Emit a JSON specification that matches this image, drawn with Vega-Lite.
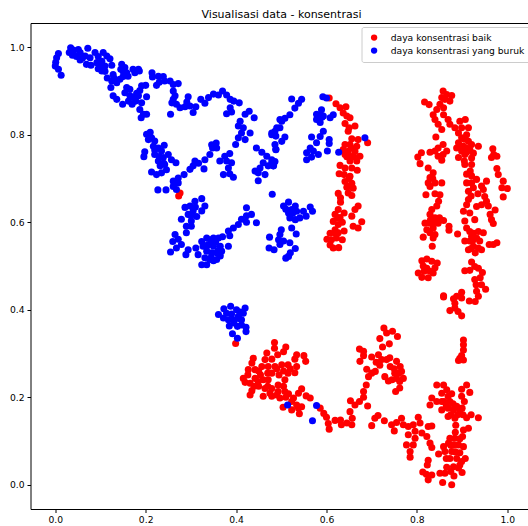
{"$schema":"https://vega.github.io/schema/vega-lite/v6.json","width":498,"height":486,"autosize":"none","padding":{"left":30.5,"top":23,"right":0,"bottom":17},"background":"white",
"title":{"text":"Visualisasi data - konsentrasi","font":"DejaVu Sans","fontSize":11,"fontWeight":"normal","color":"#000","anchor":"middle","offset":3,"dx":2},
"config":{"font":"DejaVu Sans","view":{"stroke":"#000","strokeWidth":1}},
"datasets":{"baik":[
{"x":0.606,"y":0.884},{"x":0.621,"y":0.871},{"x":0.63,"y":0.862},{"x":0.643,"y":0.864},{"x":0.637,"y":0.85},{"x":0.645,"y":0.843},{"x":0.652,"y":0.839},{"x":0.641,"y":0.826},{"x":0.65,"y":0.816},{"x":0.648,"y":0.808},{"x":0.663,"y":0.82},{"x":0.691,"y":0.782},{"x":0.656,"y":0.791},{"x":0.67,"y":0.789},{"x":0.641,"y":0.778},{"x":0.652,"y":0.778},{"x":0.667,"y":0.774},{"x":0.637,"y":0.766},{"x":0.648,"y":0.762},{"x":0.663,"y":0.762},{"x":0.652,"y":0.751},{"x":0.641,"y":0.755},{"x":0.674,"y":0.751},{"x":0.667,"y":0.74},{"x":0.652,"y":0.74},{"x":0.63,"y":0.73},{"x":0.641,"y":0.724},{"x":0.656,"y":0.724},{"x":0.668,"y":0.719},{"x":0.628,"y":0.711},{"x":0.639,"y":0.709},{"x":0.652,"y":0.705},{"x":0.641,"y":0.693},{"x":0.656,"y":0.689},{"x":0.648,"y":0.682},{"x":0.659,"y":0.678},{"x":0.648,"y":0.667},{"x":0.656,"y":0.661},{"x":0.626,"y":0.666},{"x":0.631,"y":0.656},{"x":0.631,"y":0.646},{"x":0.67,"y":0.637},{"x":0.663,"y":0.629},{"x":0.656,"y":0.614},{"x":0.678,"y":0.601},{"x":0.67,"y":0.587},{"x":0.659,"y":0.591},{"x":0.626,"y":0.629},{"x":0.639,"y":0.621},{"x":0.619,"y":0.618},{"x":0.63,"y":0.611},{"x":0.615,"y":0.602},{"x":0.626,"y":0.595},{"x":0.639,"y":0.58},{"x":0.619,"y":0.583},{"x":0.608,"y":0.575},{"x":0.626,"y":0.576},{"x":0.601,"y":0.561},{"x":0.611,"y":0.56},{"x":0.622,"y":0.564},{"x":0.608,"y":0.548},{"x":0.615,"y":0.541},{"x":0.627,"y":0.542},
{"x":0.858,"y":0.9},{"x":0.866,"y":0.892},{"x":0.877,"y":0.89},{"x":0.855,"y":0.885},{"x":0.862,"y":0.881},{"x":0.873,"y":0.877},{"x":0.817,"y":0.875},{"x":0.827,"y":0.869},{"x":0.851,"y":0.87},{"x":0.859,"y":0.862},{"x":0.844,"y":0.858},{"x":0.836,"y":0.846},{"x":0.859,"y":0.846},{"x":0.84,"y":0.835},{"x":0.847,"y":0.824},{"x":0.855,"y":0.812},{"x":0.842,"y":0.795},{"x":0.869,"y":0.835},{"x":0.873,"y":0.824},{"x":0.884,"y":0.816},{"x":0.895,"y":0.831},{"x":0.907,"y":0.835},{"x":0.899,"y":0.816},{"x":0.914,"y":0.816},{"x":0.892,"y":0.804},{"x":0.91,"y":0.8},{"x":0.899,"y":0.793},{"x":0.914,"y":0.785},{"x":0.892,"y":0.782},{"x":0.903,"y":0.774},{"x":0.921,"y":0.778},{"x":0.936,"y":0.774},{"x":0.888,"y":0.77},{"x":0.899,"y":0.763},{"x":0.917,"y":0.766},{"x":0.925,"y":0.758},{"x":0.906,"y":0.755},{"x":0.892,"y":0.748},{"x":0.921,"y":0.747},{"x":0.858,"y":0.778},{"x":0.847,"y":0.77},{"x":0.84,"y":0.763},{"x":0.829,"y":0.76},{"x":0.866,"y":0.763},{"x":0.858,"y":0.755},{"x":0.847,"y":0.751},{"x":0.855,"y":0.742},{"x":0.81,"y":0.759},{"x":0.802,"y":0.749},{"x":0.807,"y":0.734},
{"x":0.968,"y":0.768},{"x":0.97,"y":0.755},{"x":0.977,"y":0.751},{"x":0.965,"y":0.748},{"x":0.977,"y":0.723},{"x":0.98,"y":0.709},{"x":0.991,"y":0.694},{"x":1.0,"y":0.677},{"x":0.988,"y":0.679},{"x":0.991,"y":0.658},
{"x":0.906,"y":0.732},{"x":0.921,"y":0.732},{"x":0.918,"y":0.717},{"x":0.921,"y":0.706},{"x":0.91,"y":0.69},{"x":0.921,"y":0.69},{"x":0.932,"y":0.698},{"x":0.954,"y":0.694},{"x":0.943,"y":0.683},{"x":0.925,"y":0.679},{"x":0.914,"y":0.671},{"x":0.947,"y":0.675},{"x":0.95,"y":0.659},{"x":0.954,"y":0.648},{"x":0.943,"y":0.64},{"x":0.932,"y":0.636},{"x":0.914,"y":0.652},{"x":0.91,"y":0.64},{"x":0.958,"y":0.637},{"x":0.973,"y":0.628},{"x":0.962,"y":0.618},{"x":0.965,"y":0.606},{"x":0.969,"y":0.597},{"x":0.903,"y":0.625},{"x":0.917,"y":0.621},{"x":0.928,"y":0.606},{"x":0.906,"y":0.603},{"x":0.91,"y":0.587},
{"x":0.825,"y":0.724},{"x":0.836,"y":0.713},{"x":0.829,"y":0.702},{"x":0.825,"y":0.69},{"x":0.84,"y":0.69},{"x":0.855,"y":0.69},{"x":0.829,"y":0.682},{"x":0.82,"y":0.663},{"x":0.84,"y":0.665},{"x":0.851,"y":0.663},{"x":0.848,"y":0.648},{"x":0.844,"y":0.637},{"x":0.833,"y":0.629},{"x":0.829,"y":0.618},{"x":0.84,"y":0.61},{"x":0.859,"y":0.604},{"x":0.818,"y":0.598},{"x":0.829,"y":0.598},{"x":0.847,"y":0.598},{"x":0.836,"y":0.587},{"x":0.822,"y":0.583},{"x":0.871,"y":0.591},{"x":0.871,"y":0.582},{"x":0.829,"y":0.576},{"x":0.84,"y":0.572},{"x":0.814,"y":0.566},{"x":0.836,"y":0.564},{"x":0.834,"y":0.545},
{"x":0.89,"y":0.573},{"x":0.917,"y":0.579},{"x":0.936,"y":0.579},{"x":0.947,"y":0.576},{"x":0.906,"y":0.557},{"x":0.921,"y":0.568},{"x":0.932,"y":0.564},{"x":0.917,"y":0.557},{"x":0.939,"y":0.557},{"x":0.925,"y":0.545},{"x":0.936,"y":0.541},{"x":0.914,"y":0.537},{"x":0.929,"y":0.53},{"x":0.943,"y":0.537},{"x":0.96,"y":0.549},{"x":0.977,"y":0.553},{"x":0.969,"y":0.549},
{"x":0.811,"y":0.512},{"x":0.822,"y":0.516},{"x":0.833,"y":0.511},{"x":0.845,"y":0.507},{"x":0.814,"y":0.5},{"x":0.84,"y":0.496},{"x":0.803,"y":0.484},{"x":0.816,"y":0.488},{"x":0.829,"y":0.488},{"x":0.811,"y":0.474},{"x":0.825,"y":0.473},{"x":0.836,"y":0.484},{"x":0.822,"y":0.495},
{"x":0.921,"y":0.509},{"x":0.928,"y":0.499},{"x":0.906,"y":0.489},{"x":0.917,"y":0.49},{"x":0.936,"y":0.495},{"x":0.945,"y":0.485},{"x":0.928,"y":0.469},{"x":0.94,"y":0.473},{"x":0.931,"y":0.457},{"x":0.943,"y":0.457},{"x":0.952,"y":0.447},{"x":0.932,"y":0.442},{"x":0.936,"y":0.431},{"x":0.929,"y":0.419},{"x":0.916,"y":0.42},{"x":0.899,"y":0.44},{"x":0.888,"y":0.431},{"x":0.899,"y":0.427},{"x":0.881,"y":0.425},{"x":0.884,"y":0.415},{"x":0.859,"y":0.432},{"x":0.859,"y":0.429},{"x":0.884,"y":0.404},{"x":0.873,"y":0.398},{"x":0.891,"y":0.396},{"x":0.899,"y":0.386},
{"x":0.276,"y":0.667},{"x":0.273,"y":0.66},{"x":0.399,"y":0.323},
{"x":0.485,"y":0.325},{"x":0.485,"y":0.312},{"x":0.51,"y":0.315},{"x":0.505,"y":0.304},{"x":0.492,"y":0.297},{"x":0.468,"y":0.301},{"x":0.534,"y":0.297},{"x":0.55,"y":0.295},{"x":0.554,"y":0.282},{"x":0.438,"y":0.289},{"x":0.435,"y":0.278},{"x":0.464,"y":0.286},{"x":0.479,"y":0.287},{"x":0.53,"y":0.287},{"x":0.515,"y":0.274},{"x":0.501,"y":0.274},{"x":0.486,"y":0.27},{"x":0.471,"y":0.27},{"x":0.457,"y":0.27},{"x":0.427,"y":0.263},{"x":0.442,"y":0.263},{"x":0.534,"y":0.27},{"x":0.53,"y":0.256},{"x":0.515,"y":0.255},{"x":0.479,"y":0.255},{"x":0.495,"y":0.251},{"x":0.426,"y":0.251},{"x":0.454,"y":0.251},{"x":0.416,"y":0.243},{"x":0.442,"y":0.243},{"x":0.42,"y":0.234},{"x":0.431,"y":0.232},{"x":0.449,"y":0.236},{"x":0.471,"y":0.24},{"x":0.508,"y":0.24},{"x":0.493,"y":0.228},{"x":0.479,"y":0.22},{"x":0.435,"y":0.215},{"x":0.464,"y":0.22},{"x":0.431,"y":0.205},{"x":0.46,"y":0.202},{"x":0.475,"y":0.209},{"x":0.493,"y":0.213},{"x":0.508,"y":0.213},{"x":0.516,"y":0.208},{"x":0.479,"y":0.202},{"x":0.497,"y":0.198},{"x":0.545,"y":0.219},{"x":0.538,"y":0.209},{"x":0.527,"y":0.198},{"x":0.555,"y":0.203},{"x":0.564,"y":0.198},{"x":0.504,"y":0.177},{"x":0.523,"y":0.19},{"x":0.534,"y":0.182},{"x":0.545,"y":0.178},{"x":0.523,"y":0.171},{"x":0.538,"y":0.175},{"x":0.54,"y":0.162},
{"x":0.586,"y":0.175},{"x":0.594,"y":0.163},{"x":0.6,"y":0.154},{"x":0.604,"y":0.14},{"x":0.606,"y":0.127},{"x":0.619,"y":0.147},{"x":0.631,"y":0.148},{"x":0.633,"y":0.137},{"x":0.645,"y":0.141},{"x":0.656,"y":0.137},{"x":0.657,"y":0.152},{"x":0.652,"y":0.167},{"x":0.653,"y":0.192},{"x":0.663,"y":0.182},{"x":0.673,"y":0.19},{"x":0.682,"y":0.2},{"x":0.682,"y":0.213},{"x":0.688,"y":0.228},{"x":0.693,"y":0.247},{"x":0.689,"y":0.264},{"x":0.7,"y":0.255},{"x":0.708,"y":0.259},{"x":0.691,"y":0.18},
{"x":0.673,"y":0.31},{"x":0.682,"y":0.305},{"x":0.674,"y":0.282},{"x":0.682,"y":0.295},{"x":0.7,"y":0.292},{"x":0.715,"y":0.297},{"x":0.724,"y":0.315},{"x":0.722,"y":0.286},{"x":0.718,"y":0.273},{"x":0.733,"y":0.286},{"x":0.741,"y":0.27},{"x":0.755,"y":0.282},{"x":0.727,"y":0.358},{"x":0.733,"y":0.347},{"x":0.746,"y":0.351},{"x":0.718,"y":0.334},{"x":0.757,"y":0.339},{"x":0.739,"y":0.322},{"x":0.763,"y":0.27},{"x":0.766,"y":0.259},{"x":0.751,"y":0.255},{"x":0.755,"y":0.243},{"x":0.77,"y":0.243},{"x":0.729,"y":0.247},{"x":0.737,"y":0.237},{"x":0.762,"y":0.236},{"x":0.762,"y":0.221},{"x":0.753,"y":0.213},
{"x":0.7,"y":0.135},{"x":0.707,"y":0.152},{"x":0.714,"y":0.158},{"x":0.728,"y":0.146},{"x":0.744,"y":0.137},{"x":0.755,"y":0.142},{"x":0.766,"y":0.152},{"x":0.75,"y":0.123},{"x":0.77,"y":0.137},{"x":0.781,"y":0.133},{"x":0.792,"y":0.137},{"x":0.803,"y":0.154},{"x":0.807,"y":0.141},{"x":0.781,"y":0.114},{"x":0.796,"y":0.122},{"x":0.811,"y":0.118},{"x":0.825,"y":0.133},{"x":0.833,"y":0.134},{"x":0.822,"y":0.11},{"x":0.796,"y":0.106},{"x":0.777,"y":0.091},{"x":0.792,"y":0.091},{"x":0.785,"y":0.076},{"x":0.785,"y":0.063},{"x":0.829,"y":0.095},{"x":0.833,"y":0.085},{"x":0.825,"y":0.056},{"x":0.823,"y":0.045},{"x":0.813,"y":0.029},{"x":0.821,"y":0.024},{"x":0.833,"y":0.022},{"x":0.825,"y":0.011},
{"x":0.844,"y":0.228},{"x":0.859,"y":0.228},{"x":0.866,"y":0.217},{"x":0.855,"y":0.209},{"x":0.869,"y":0.202},{"x":0.833,"y":0.198},{"x":0.829,"y":0.182},{"x":0.844,"y":0.19},{"x":0.855,"y":0.19},{"x":0.873,"y":0.19},{"x":0.877,"y":0.208},{"x":0.91,"y":0.228},{"x":0.899,"y":0.218},{"x":0.917,"y":0.211},{"x":0.899,"y":0.202},{"x":0.888,"y":0.179},{"x":0.869,"y":0.175},{"x":0.855,"y":0.171},{"x":0.881,"y":0.171},{"x":0.895,"y":0.171},{"x":0.869,"y":0.156},{"x":0.884,"y":0.152},{"x":0.902,"y":0.16},{"x":0.92,"y":0.16},{"x":0.936,"y":0.153},{"x":0.91,"y":0.153},{"x":0.886,"y":0.136},{"x":0.914,"y":0.129},{"x":0.903,"y":0.125},{"x":0.901,"y":0.11},{"x":0.873,"y":0.106},{"x":0.884,"y":0.106},{"x":0.87,"y":0.095},{"x":0.859,"y":0.087},{"x":0.848,"y":0.07},{"x":0.881,"y":0.091},{"x":0.892,"y":0.091},{"x":0.903,"y":0.087},{"x":0.862,"y":0.076},{"x":0.877,"y":0.076},{"x":0.895,"y":0.073},{"x":0.907,"y":0.06},{"x":0.873,"y":0.06},{"x":0.888,"y":0.06},{"x":0.899,"y":0.053},{"x":0.866,"y":0.04},{"x":0.881,"y":0.041},{"x":0.892,"y":0.038},{"x":0.9,"y":0.028},{"x":0.851,"y":0.026},{"x":0.862,"y":0.026},{"x":0.882,"y":0.02},{"x":0.857,"y":0.005},{"x":0.877,"y":0.0},
{"x":0.903,"y":0.331},{"x":0.903,"y":0.32},{"x":0.903,"y":0.308},{"x":0.899,"y":0.295},{"x":0.892,"y":0.284},{"x":0.903,"y":0.285},{"x":0.895,"y":0.289},
{"x":0.45,"y":0.26},{"x":0.46,"y":0.24},{"x":0.49,"y":0.265},{"x":0.505,"y":0.26},{"x":0.52,"y":0.265},{"x":0.47,"y":0.255},{"x":0.45,"y":0.225},{"x":0.47,"y":0.225},{"x":0.44,"y":0.225},{"x":0.505,"y":0.225},{"x":0.49,"y":0.205},{"x":0.51,"y":0.2},{"x":0.86,"y":0.19},{"x":0.865,"y":0.18},{"x":0.88,"y":0.185},{"x":0.875,"y":0.16},{"x":0.89,"y":0.16},{"x":0.885,"y":0.12},{"x":0.895,"y":0.105},{"x":0.875,"y":0.09},{"x":0.865,"y":0.06},{"x":0.885,"y":0.075},{"x":0.895,"y":0.045},{"x":0.875,"y":0.03},{"x":0.9,"y":0.175},{"x":0.905,"y":0.19},{"x":0.74,"y":0.29},{"x":0.75,"y":0.265},{"x":0.76,"y":0.255},{"x":0.745,"y":0.24},{"x":0.71,"y":0.28},{"x":0.91,"y":0.76},{"x":0.905,"y":0.79},{"x":0.895,"y":0.775},{"x":0.91,"y":0.77},{"x":0.905,"y":0.74},{"x":0.91,"y":0.71},{"x":0.92,"y":0.66},{"x":0.935,"y":0.665},{"x":0.835,"y":0.7},{"x":0.84,"y":0.6},{"x":0.83,"y":0.605},{"x":0.85,"y":0.61},{"x":0.655,"y":0.77},{"x":0.66,"y":0.75},{"x":0.645,"y":0.75},{"x":0.65,"y":0.7},{"x":0.645,"y":0.68},{"x":0.635,"y":0.6},{"x":0.625,"y":0.61},{"x":0.635,"y":0.56},{"x":0.62,"y":0.575},{"x":0.925,"y":0.56},{"x":0.925,"y":0.575},{"x":0.92,"y":0.54}
],"buruk":[
{"x":0.007,"y":0.986},{"x":0.003,"y":0.976},{"x":0.001,"y":0.966},{"x":0.0,"y":0.957},{"x":0.007,"y":0.95},{"x":0.013,"y":0.936},{"x":0.034,"y":0.999},{"x":0.04,"y":0.994},{"x":0.031,"y":0.988},{"x":0.038,"y":0.982},{"x":0.051,"y":0.995},{"x":0.055,"y":0.988},{"x":0.047,"y":0.979},{"x":0.055,"y":0.971},{"x":0.072,"y":0.998},{"x":0.066,"y":0.98},{"x":0.077,"y":0.976},{"x":0.069,"y":0.961},{"x":0.079,"y":0.959},{"x":0.088,"y":0.988},{"x":0.095,"y":0.979},{"x":0.106,"y":0.988},{"x":0.114,"y":0.98},{"x":0.121,"y":0.974},{"x":0.103,"y":0.968},{"x":0.092,"y":0.965},{"x":0.095,"y":0.951},{"x":0.11,"y":0.957},{"x":0.103,"y":0.946},{"x":0.125,"y":0.959},{"x":0.115,"y":0.93},{"x":0.128,"y":0.938},{"x":0.125,"y":0.923},{"x":0.123,"y":0.908},{"x":0.136,"y":0.919},{"x":0.143,"y":0.927},{"x":0.147,"y":0.961},{"x":0.145,"y":0.95},{"x":0.154,"y":0.954},{"x":0.158,"y":0.942},{"x":0.15,"y":0.933},{"x":0.161,"y":0.934},{"x":0.172,"y":0.95},{"x":0.184,"y":0.95},{"x":0.176,"y":0.942},{"x":0.186,"y":0.946},
{"x":0.158,"y":0.908},{"x":0.165,"y":0.904},{"x":0.154,"y":0.896},{"x":0.128,"y":0.889},{"x":0.136,"y":0.881},{"x":0.149,"y":0.87},{"x":0.162,"y":0.877},{"x":0.173,"y":0.885},{"x":0.184,"y":0.889},{"x":0.191,"y":0.912},{"x":0.2,"y":0.913},{"x":0.187,"y":0.901},{"x":0.202,"y":0.887},{"x":0.191,"y":0.873},{"x":0.178,"y":0.877},{"x":0.187,"y":0.858},{"x":0.195,"y":0.847},{"x":0.19,"y":0.839},{"x":0.202,"y":0.847},
{"x":0.214,"y":0.942},{"x":0.215,"y":0.932},{"x":0.228,"y":0.934},{"x":0.239,"y":0.933},{"x":0.224,"y":0.913},{"x":0.23,"y":0.92},{"x":0.242,"y":0.923},{"x":0.254,"y":0.923},{"x":0.261,"y":0.915},{"x":0.272,"y":0.917},{"x":0.261,"y":0.9},{"x":0.265,"y":0.889},{"x":0.258,"y":0.873},{"x":0.268,"y":0.87},{"x":0.261,"y":0.881},{"x":0.276,"y":0.862},{"x":0.287,"y":0.864},{"x":0.294,"y":0.887},{"x":0.291,"y":0.875},{"x":0.298,"y":0.866},{"x":0.311,"y":0.864},{"x":0.305,"y":0.851},{"x":0.255,"y":0.847},{"x":0.322,"y":0.881},{"x":0.331,"y":0.872},{"x":0.339,"y":0.885},{"x":0.35,"y":0.893},{"x":0.361,"y":0.891},{"x":0.37,"y":0.9},{"x":0.379,"y":0.891},{"x":0.387,"y":0.881},{"x":0.395,"y":0.877},{"x":0.407,"y":0.873},{"x":0.387,"y":0.862},{"x":0.39,"y":0.852},{"x":0.379,"y":0.848},
{"x":0.429,"y":0.854},{"x":0.42,"y":0.847},{"x":0.44,"y":0.839},{"x":0.409,"y":0.831},{"x":0.405,"y":0.82},{"x":0.416,"y":0.816},{"x":0.412,"y":0.804},{"x":0.431,"y":0.804},{"x":0.405,"y":0.793},{"x":0.42,"y":0.789},{"x":0.399,"y":0.778},
{"x":0.202,"y":0.801},{"x":0.21,"y":0.806},{"x":0.213,"y":0.793},{"x":0.206,"y":0.789},{"x":0.22,"y":0.786},{"x":0.217,"y":0.774},{"x":0.228,"y":0.77},{"x":0.241,"y":0.776},{"x":0.235,"y":0.763},{"x":0.22,"y":0.755},{"x":0.198,"y":0.761},{"x":0.196,"y":0.75},{"x":0.25,"y":0.755},{"x":0.239,"y":0.748},{"x":0.228,"y":0.74},{"x":0.257,"y":0.743},{"x":0.267,"y":0.736},{"x":0.242,"y":0.732},{"x":0.232,"y":0.729},{"x":0.213,"y":0.715},{"x":0.224,"y":0.709},{"x":0.235,"y":0.713},{"x":0.246,"y":0.72},
{"x":0.285,"y":0.709},{"x":0.272,"y":0.701},{"x":0.261,"y":0.694},{"x":0.272,"y":0.69},{"x":0.261,"y":0.682},{"x":0.268,"y":0.675},{"x":0.227,"y":0.674},{"x":0.245,"y":0.674},
{"x":0.298,"y":0.721},{"x":0.309,"y":0.74},{"x":0.317,"y":0.735},{"x":0.305,"y":0.729},{"x":0.329,"y":0.722},{"x":0.331,"y":0.743},{"x":0.342,"y":0.755},{"x":0.348,"y":0.77},{"x":0.356,"y":0.781},{"x":0.357,"y":0.77},{"x":0.346,"y":0.777},
{"x":0.386,"y":0.757},{"x":0.375,"y":0.751},{"x":0.364,"y":0.74},{"x":0.379,"y":0.74},{"x":0.39,"y":0.736},{"x":0.383,"y":0.724},{"x":0.372,"y":0.709},{"x":0.386,"y":0.711},{"x":0.394,"y":0.703},
{"x":0.445,"y":0.77},{"x":0.457,"y":0.76},{"x":0.468,"y":0.751},{"x":0.479,"y":0.743},{"x":0.486,"y":0.739},{"x":0.46,"y":0.736},{"x":0.471,"y":0.729},{"x":0.482,"y":0.729},{"x":0.442,"y":0.717},{"x":0.453,"y":0.724},{"x":0.449,"y":0.713},{"x":0.464,"y":0.709},{"x":0.449,"y":0.695},{"x":0.48,"y":0.664},
{"x":0.479,"y":0.804},{"x":0.49,"y":0.816},{"x":0.497,"y":0.835},{"x":0.488,"y":0.797},{"x":0.488,"y":0.767},
{"x":0.324,"y":0.654},{"x":0.309,"y":0.648},{"x":0.298,"y":0.637},{"x":0.287,"y":0.634},{"x":0.305,"y":0.626},{"x":0.331,"y":0.637},{"x":0.324,"y":0.626},{"x":0.294,"y":0.618},{"x":0.313,"y":0.613},{"x":0.279,"y":0.607},{"x":0.301,"y":0.603},{"x":0.29,"y":0.591},{"x":0.301,"y":0.591},{"x":0.29,"y":0.576},
{"x":0.423,"y":0.633},{"x":0.434,"y":0.618},{"x":0.423,"y":0.615},{"x":0.412,"y":0.607},{"x":0.423,"y":0.6},{"x":0.405,"y":0.595},{"x":0.445,"y":0.599},{"x":0.394,"y":0.587},{"x":0.383,"y":0.58},{"x":0.386,"y":0.569},{"x":0.383,"y":0.545},
{"x":0.265,"y":0.572},{"x":0.272,"y":0.561},{"x":0.26,"y":0.556},{"x":0.279,"y":0.549},{"x":0.268,"y":0.541},{"x":0.255,"y":0.532},{"x":0.294,"y":0.537},{"x":0.289,"y":0.526},{"x":0.311,"y":0.541},{"x":0.316,"y":0.526},{"x":0.324,"y":0.556},{"x":0.335,"y":0.564},{"x":0.35,"y":0.564},{"x":0.361,"y":0.564},{"x":0.37,"y":0.567},{"x":0.327,"y":0.545},{"x":0.338,"y":0.549},{"x":0.35,"y":0.545},{"x":0.365,"y":0.545},{"x":0.335,"y":0.534},{"x":0.346,"y":0.53},{"x":0.357,"y":0.53},{"x":0.368,"y":0.534},{"x":0.331,"y":0.519},{"x":0.342,"y":0.515},{"x":0.357,"y":0.515},{"x":0.324,"y":0.503},{"x":0.335,"y":0.503},{"x":0.35,"y":0.512},{"x":0.365,"y":0.523},
{"x":0.505,"y":0.637},{"x":0.516,"y":0.646},{"x":0.531,"y":0.637},{"x":0.523,"y":0.629},{"x":0.516,"y":0.621},{"x":0.534,"y":0.625},{"x":0.519,"y":0.61},{"x":0.531,"y":0.606},{"x":0.541,"y":0.61},{"x":0.549,"y":0.625},{"x":0.564,"y":0.635},{"x":0.569,"y":0.625},{"x":0.555,"y":0.614},
{"x":0.5,"y":0.583},{"x":0.497,"y":0.572},{"x":0.523,"y":0.587},{"x":0.533,"y":0.573},{"x":0.474,"y":0.566},{"x":0.494,"y":0.56},{"x":0.505,"y":0.557},{"x":0.519,"y":0.553},{"x":0.473,"y":0.541},{"x":0.484,"y":0.537},{"x":0.497,"y":0.549},{"x":0.531,"y":0.54},{"x":0.52,"y":0.53},{"x":0.51,"y":0.518},{"x":0.516,"y":0.522},
{"x":0.523,"y":0.882},{"x":0.545,"y":0.881},{"x":0.538,"y":0.872},{"x":0.53,"y":0.861},{"x":0.519,"y":0.846},{"x":0.508,"y":0.838},{"x":0.501,"y":0.831},{"x":0.497,"y":0.816},{"x":0.486,"y":0.808},{"x":0.479,"y":0.8},{"x":0.508,"y":0.795},{"x":0.501,"y":0.785},{"x":0.486,"y":0.778},{"x":0.488,"y":0.766},{"x":0.479,"y":0.736},{"x":0.483,"y":0.729},
{"x":0.592,"y":0.887},{"x":0.6,"y":0.884},{"x":0.589,"y":0.857},{"x":0.578,"y":0.847},{"x":0.593,"y":0.843},{"x":0.608,"y":0.839},{"x":0.615,"y":0.846},{"x":0.578,"y":0.835},{"x":0.586,"y":0.828},{"x":0.593,"y":0.808},{"x":0.567,"y":0.795},{"x":0.586,"y":0.796},{"x":0.578,"y":0.782},{"x":0.606,"y":0.789},{"x":0.606,"y":0.78},{"x":0.564,"y":0.77},{"x":0.556,"y":0.759},{"x":0.571,"y":0.763},{"x":0.582,"y":0.755},{"x":0.556,"y":0.743},{"x":0.567,"y":0.749},{"x":0.602,"y":0.763},{"x":0.627,"y":0.76},{"x":0.685,"y":0.793},
{"x":0.361,"y":0.389},{"x":0.373,"y":0.402},{"x":0.388,"y":0.408},{"x":0.401,"y":0.4},{"x":0.42,"y":0.404},{"x":0.372,"y":0.381},{"x":0.383,"y":0.377},{"x":0.394,"y":0.377},{"x":0.405,"y":0.385},{"x":0.416,"y":0.392},{"x":0.412,"y":0.377},{"x":0.385,"y":0.363},{"x":0.403,"y":0.362},{"x":0.412,"y":0.365},{"x":0.422,"y":0.36},{"x":0.422,"y":0.35},{"x":0.392,"y":0.345},{"x":0.403,"y":0.335},{"x":0.379,"y":0.392},
{"x":0.514,"y":0.182},{"x":0.578,"y":0.181},{"x":0.569,"y":0.146},
{"x":0.345,"y":0.55},{"x":0.355,"y":0.555},{"x":0.36,"y":0.535},{"x":0.345,"y":0.52},{"x":0.335,"y":0.545},{"x":0.345,"y":0.56},{"x":0.31,"y":0.635},{"x":0.3,"y":0.615},{"x":0.1,"y":0.96},{"x":0.11,"y":0.945},{"x":0.13,"y":0.93},{"x":0.15,"y":0.945},{"x":0.165,"y":0.89},{"x":0.18,"y":0.895},{"x":0.17,"y":0.87},{"x":0.04,"y":0.985},{"x":0.06,"y":0.975},{"x":0.405,"y":0.38},{"x":0.39,"y":0.39},{"x":0.395,"y":0.37},{"x":0.41,"y":0.395},{"x":0.24,"y":0.735},{"x":0.23,"y":0.75},{"x":0.22,"y":0.765},{"x":0.525,"y":0.62},{"x":0.51,"y":0.63},{"x":0.59,"y":0.84},{"x":0.585,"y":0.845}
]},
"layer":[
{"data":{"name":"baik"},"mark":{"type":"circle","size":50,"opacity":1},"encoding":{"x":{"field":"x","type":"quantitative"},"y":{"field":"y","type":"quantitative"},"color":{"datum":"daya konsentrasi baik"}}},
{"data":{"name":"buruk"},"mark":{"type":"circle","size":50,"opacity":1},"encoding":{"x":{"field":"x","type":"quantitative"},"y":{"field":"y","type":"quantitative"},"color":{"datum":"daya konsentrasi yang buruk"}}}
],
"encoding":{
"x":{"field":"x","type":"quantitative","title":null,"scale":{"domain":[-0.0548,1.0469],"nice":false,"zero":false},"axis":{"values":[0,0.2,0.4,0.6,0.8,1.0],"format":".1f","grid":false,"domain":false,"tickSize":3.5,"tickColor":"#000","labelColor":"#000","labelFontSize":9.2,"labelPadding":3,"labelFont":"DejaVu Sans"}},
"y":{"field":"y","type":"quantitative","title":null,"scale":{"domain":[-0.0556,1.0556],"nice":false,"zero":false},"axis":{"values":[0,0.2,0.4,0.6,0.8,1.0],"format":".1f","grid":false,"domain":false,"tickSize":3.5,"tickColor":"#000","labelColor":"#000","labelFontSize":9.2,"labelPadding":3,"labelFont":"DejaVu Sans"}},
"color":{"scale":{"domain":["daya konsentrasi baik","daya konsentrasi yang buruk"],"range":["#ff0000","#0000ff"]},"legend":{"title":null,"orient":"none","legendX":331,"legendY":4,"symbolType":"circle","symbolSize":40,"symbolOpacity":1,"labelFontSize":9.2,"labelColor":"#000","labelFont":"DejaVu Sans","fillColor":"white","strokeColor":"#cccccc","cornerRadius":2,"padding":6,"rowPadding":3,"symbolOffset":2,"labelOffset":12}}
}}
